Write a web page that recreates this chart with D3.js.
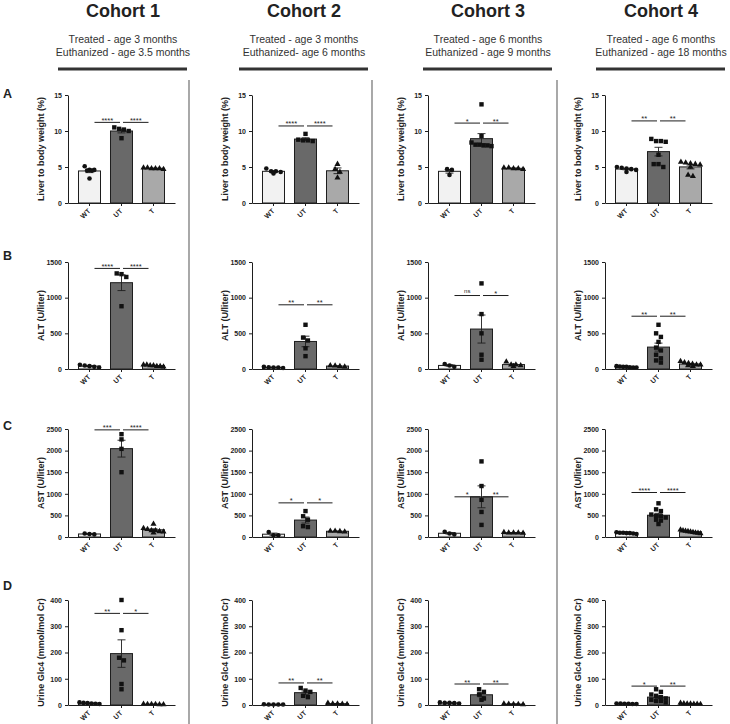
<!DOCTYPE html>
<html>
<head>
<meta charset="utf-8">
<script src="https://cdn.jsdelivr.net/npm/d3@7"></script>
<style>
  body { margin: 0; background: #fff; }
</style>
</head>
<body>
<div id="chart"></div>
<script>
const groups = ["WT", "UT", "T"];
const cohortTitles = ["Cohort 1", "Cohort 2", "Cohort 3", "Cohort 4"];
const treatedLines = [
  "Treated - age 3 months",
  "Treated - age 3 months",
  "Treated - age 6 months",
  "Treated - age 6 months",
];
const euthanizedLines = [
  "Euthanized - age 3.5 months",
  "Euthanized- age 6 months",
  "Euthanized - age 9 months",
  "Euthanized - age 18 months",
];
const rowLetters = ["A", "B", "C", "D"];
const yLabels = [
  "Liver to body weight (%)",
  "ALT (U/liter)",
  "AST (U/liter)",
  "Urine Glc4 (mmol/mol Cr)",
];
const yMaxes = [15, 1500, 2500, 400];
const yTicks = [
  [0, 5, 10, 15],
  [0, 500, 1000, 1500],
  [0, 500, 1000, 1500, 2000, 2500],
  [0, 100, 200, 300, 400],
];

// each cohort: [WT, UT, T] individual animals
const liverRatio = [
  [[5.1, 4.6, 4.5, 4.6, 4.5, 3.4], [10.3, 10.5, 10.0, 9.0, 10.2], [4.9, 4.8, 4.8, 4.9, 4.7, 4.8]],
  [[4.1, 4.4, 4.3, 4.4, 4.8], [9.6, 8.8, 8.7, 8.6, 8.7], [5.4, 4.7, 4.3, 3.5]],
  [[4.7, 4.6, 3.9], [13.7, 9.3, 8.4, 8.1, 8.0, 8.0, 8.1, 7.9], [4.9, 4.9, 4.8, 4.8, 4.7]],
  [[5.0, 4.7, 4.9, 4.6, 4.8, 4.3], [8.9, 8.6, 8.6, 8.5, 6.7, 5.0, 5.4, 5.4], [5.6, 5.4, 5.3, 5.5, 5.7, 3.7, 3.9, 5.0]],
];
const altValues = [
  [[60, 40, 30, 50, 20], [1340, 1290, 1330, 880], [60, 40, 50, 30, 50, 40, 60]],
  [[30, 20, 25, 20, 15], [620, 440, 400, 290, 180], [50, 40, 30, 45]],
  [[50, 70, 30], [1200, 770, 500, 200, 130], [100, 60, 50, 60, 40]],
  [[40, 30, 20, 35, 25, 30, 20], [620, 500, 450, 380, 300, 260, 200, 150, 120, 90], [110, 80, 60, 50, 40, 90, 70, 60]],
];
const astValues = [
  [[60, 70, 80], [2380, 2260, 2040, 1500], [300, 200, 150, 120, 180, 100, 130, 150]],
  [[40, 115, 40], [600, 480, 400, 250, 230], [140, 140, 130, 120]],
  [[80, 120, 60], [1750, 1180, 860, 580, 280], [110, 100, 100, 90, 100]],
  [[100, 90, 80, 110, 70, 90, 100], [780, 640, 600, 520, 490, 480, 450, 400, 380, 300], [170, 150, 130, 120, 100, 90, 110, 140, 80]],
];
const glc4Values = [
  [[8, 5, 10, 6, 4, 7], [400, 285, 180, 170, 80, 60], [2, 3, 4, 3, 2, 3]],
  [[2, 2, 3, 2, 2], [65, 55, 50, 35, 30], [8, 5, 3, 4, 5]],
  [[10, 8, 6, 8, 7], [60, 50, 40, 25, 20], [5, 3, 4, 2, 3]],
  [[6, 5, 4, 5, 6, 4], [60, 50, 40, 35, 30, 25, 20, 15, 10, 15], [8, 5, 4, 6, 5, 3, 4]],
];
const rowData = [liverRatio, altValues, astValues, glc4Values];

// significance brackets: height in data units and the labels (WT vs UT, UT vs T)
const sigHeights = [
  [11.2, 10.7, 11.1, 11.4],
  [1410, 900, 1030, 740],
  [2480, 790, 930, 1030],
  [349, 84, 80, 72],
];
const sigLabels = [
  [["****", "****"], ["****", "****"], ["*", "**"], ["**", "**"]],
  [["****", "****"], ["**", "**"], ["ns", "*"], ["**", "**"]],
  [["***", "****"], ["*", "*"], ["*", "**"], ["****", "****"]],
  [["**", "*"], ["**", "**"], ["**", "**"], ["*", "**"]],
];

function main(container) {
  const sel = d3.select(container);
  const width = 730;
  const height = 724;
  const font = "'Liberation Sans', Arial, Helvetica, sans-serif";

  const svg = sel
    .append("svg")
    .attr("width", width)
    .attr("height", height)
    .style("display", "block")
    .style("font-family", font);

  // layout
  const axisX = [68, 252, 428, 605];
  const plotW = 107;
  const titleX = [123, 304, 488, 661];
  const rowTop = [95, 262, 429, 600];
  const rowBottom = [203, 369, 537, 705];
  const letterY = [98, 260, 430, 590];
  const sepX = [189, 372, 557];
  const fills = { WT: "#f2f2f2", UT: "#696969", T: "#a9a9a9" };
  const ink = "#1e1e1e";

  // column headers
  cohortTitles.forEach((t, c) => {
    svg.append("text")
      .attr("x", titleX[c]).attr("y", 17)
      .attr("text-anchor", "middle")
      .attr("font-size", "18px").attr("font-weight", "700")
      .attr("fill", "#222")
      .text(t);
    svg.append("text")
      .attr("x", titleX[c]).attr("y", 43)
      .attr("text-anchor", "middle")
      .attr("font-size", "10.5px").attr("fill", "#333")
      .text(treatedLines[c]);
    svg.append("text")
      .attr("x", titleX[c]).attr("y", 56)
      .attr("text-anchor", "middle")
      .attr("font-size", "10.5px").attr("fill", "#333")
      .text(euthanizedLines[c]);
    svg.append("line")
      .attr("x1", titleX[c] - 65).attr("x2", titleX[c] + 64)
      .attr("y1", 69).attr("y2", 69)
      .attr("stroke", "#333").attr("stroke-width", 3);
  });

  // vertical separators
  sepX.forEach((x) => {
    svg.append("line")
      .attr("x1", x).attr("x2", x)
      .attr("y1", 80).attr("y2", height)
      .attr("stroke", "#7a7a7a").attr("stroke-width", 1.3);
  });

  // row letters
  rowLetters.forEach((l, r) => {
    svg.append("text")
      .attr("x", 3).attr("y", letterY[r])
      .attr("font-size", "12.5px").attr("font-weight", "700")
      .attr("fill", "#222")
      .text(l);
  });

  // spread points of one group like a column scatter
  function swarm(vals, y, cx) {
    const pts = vals.map((v) => ({ v, py: y(v) })).sort((a, b) => a.py - b.py);
    const rows = [];
    pts.forEach((p) => {
      const last = rows[rows.length - 1];
      if (last && Math.abs(p.py - last[0].py) < 4) last.push(p);
      else rows.push([p]);
    });
    rows.forEach((row) => {
      const gap = row.length > 1 ? Math.min(4.8, 20 / (row.length - 1)) : 0;
      row.forEach((p, i) => (p.px = cx + (i - (row.length - 1) / 2) * gap));
    });
    return pts;
  }

  const tri = d3.symbol().type(d3.symbolTriangle).size(16)();

  rowData.forEach((cohorts, r) => {
    cohorts.forEach((groupVals, c) => {
      const g = svg.append("g");
      const x = d3.scaleBand()
        .domain(groups)
        .range([axisX[c], axisX[c] + plotW])
        .paddingInner(0.3125)
        .paddingOuter(0.328);
      const y = d3.scaleLinear()
        .domain([0, yMaxes[r]])
        .range([rowBottom[r], rowTop[r]]);
      const cx = (k) => x(k) + x.bandwidth() / 2;

      const stats = groups.map((k, i) => {
        const v = groupVals[i];
        return {
          key: k,
          vals: v,
          mean: d3.mean(v),
          sem: d3.deviation(v) / Math.sqrt(v.length),
        };
      });

      // bars
      g.selectAll("rect.bar")
        .data(stats)
        .enter()
        .append("rect")
        .attr("class", "bar")
        .attr("x", (d) => x(d.key))
        .attr("y", (d) => y(d.mean))
        .attr("width", x.bandwidth())
        .attr("height", (d) => y(0) - y(d.mean))
        .attr("fill", (d) => fills[d.key])
        .attr("stroke", ink)
        .attr("stroke-width", 1);

      // error bars (mean +/- SEM)
      stats.forEach((d) => {
        const lo = y(Math.max(0, d.mean - d.sem));
        const hi = y(d.mean + d.sem);
        const xc = cx(d.key);
        g.append("line")
          .attr("x1", xc).attr("x2", xc).attr("y1", lo).attr("y2", hi)
          .attr("stroke", ink).attr("stroke-width", 0.9);
        [lo, hi].forEach((yy) => {
          g.append("line")
            .attr("x1", xc - 4).attr("x2", xc + 4).attr("y1", yy).attr("y2", yy)
            .attr("stroke", ink).attr("stroke-width", 0.9);
        });
      });

      // individual points
      stats.forEach((d) => {
        const pts = swarm(d.vals, y, cx(d.key));
        const pg = g.append("g").attr("fill", "#111");
        if (d.key === "WT") {
          pg.selectAll("circle").data(pts).enter().append("circle")
            .attr("cx", (p) => p.px).attr("cy", (p) => p.py).attr("r", 2.3);
        } else if (d.key === "UT") {
          pg.selectAll("rect").data(pts).enter().append("rect")
            .attr("x", (p) => p.px - 2.2).attr("y", (p) => p.py - 2.2)
            .attr("width", 4.4).attr("height", 4.4);
        } else {
          pg.selectAll("path").data(pts).enter().append("path")
            .attr("d", tri)
            .attr("transform", (p) => `translate(${p.px},${p.py})`);
        }
      });

      // axes
      const yAxis = g.append("g")
        .attr("transform", `translate(${axisX[c]},0)`)
        .call(
          d3.axisLeft(y)
            .tickValues(yTicks[r])
            .tickFormat(d3.format("d"))
            .tickSize(3)
            .tickSizeOuter(0)
        );
      const xAxis = g.append("g")
        .attr("transform", `translate(0,${rowBottom[r]})`)
        .call(d3.axisBottom(x).tickSize(3).tickSizeOuter(0));
      [yAxis, xAxis].forEach((a) => {
        a.selectAll("path, line").attr("stroke", ink).attr("stroke-width", 1);
        a.selectAll("text")
          .attr("fill", "#222")
          .attr("font-size", "7px")
          .attr("font-weight", "700")
          .attr("font-family", font);
      });
      xAxis.selectAll("text")
        .attr("x", -5)
        .attr("y", 7)
        .attr("dy", 0)
        .attr("transform", "rotate(-45)")
        .style("text-anchor", "end");

      // y label
      g.append("text")
        .attr("transform", `translate(${axisX[c] - 24},${(rowTop[r] + rowBottom[r]) / 2}) rotate(-90)`)
        .attr("text-anchor", "middle")
        .attr("font-size", "9px")
        .attr("font-weight", "700")
        .attr("fill", "#222")
        .text(yLabels[r]);

      // significance brackets
      const sy = y(sigHeights[r][c]);
      const spans = [
        [cx("WT") + 5, cx("UT") - 1.5],
        [cx("UT") + 1.5, cx("T") - 5],
      ];
      spans.forEach(([a, b], i) => {
        const lab = sigLabels[r][c][i];
        g.append("line")
          .attr("x1", a).attr("x2", b).attr("y1", sy).attr("y2", sy)
          .attr("stroke", ink).attr("stroke-width", 1);
        g.append("text")
          .attr("x", (a + b) / 2)
          .attr("y", lab === "ns" ? sy - 3 : sy + 0.5)
          .attr("text-anchor", "middle")
          .attr("font-size", lab === "ns" ? "6px" : "7.5px")
          .attr("fill", "#222")
          .text(lab);
      });
    });
  });
}

main(document.getElementById("chart"));
</script>
</body>
</html>
